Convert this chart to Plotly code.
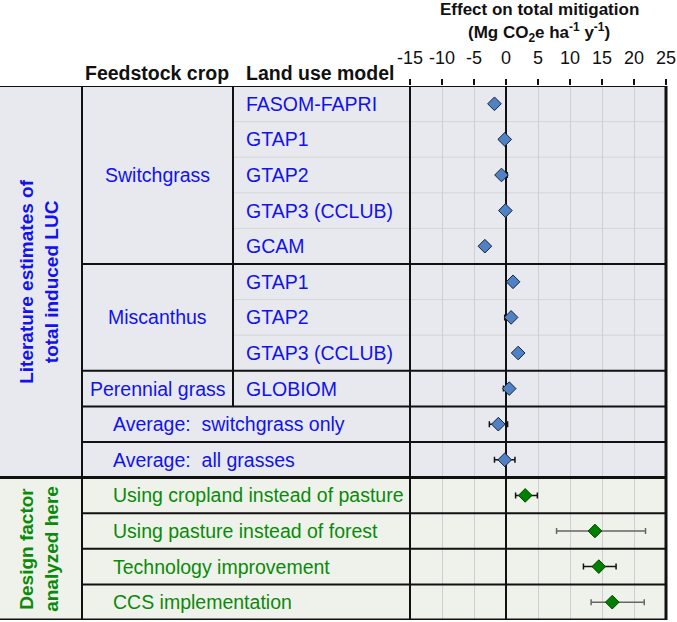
import plotly.graph_objects as go

# ---------------- data ----------------
lit_models = ["FASOM-FAPRI", "GTAP1", "GTAP2", "GTAP3 (CCLUB)", "GCAM",
              "GTAP1", "GTAP2", "GTAP3 (CCLUB)", "GLOBIOM"]
lit_crops = ["Switchgrass", "Miscanthus", "Perennial grass"]
lit_crop_rows = [(0, 4), (5, 7), (8, 8)]
avg_labels = ["Average:  switchgrass only", "Average:  all grasses"]
lit_values = [-1.8, -0.2, -0.7, -0.1, -3.3, 1.1, 0.8, 1.9, 0.5, -1.2, -0.2]
lit_err_minus = [0, 0, 0, 0, 0, 0, 1.0, 0, 0.9, 1.4, 1.6]
lit_err_plus = [0, 0, 0.9, 0, 0, 0, 0, 0, 0, 1.45, 1.6]

design_labels = ["Using cropland instead of pasture", "Using pasture instead of forest",
                 "Technology improvement", "CCS implementation"]
design_values = [3.0, 13.9, 14.5, 16.6]
design_err_minus = [1.5, 6.0, 2.4, 3.3]
design_err_plus = [1.9, 7.9, 2.7, 5.0]

tick_vals = [-15, -10, -5, 0, 5, 10, 15, 20, 25]
tick_text = ["-15", "-10", "-5", "0", "5", "10", "15", "20", "25"]

# ---------------- styles ----------------
W, H = 677, 622
FONT = "Liberation Sans, Arial, sans-serif"
BLUE_TXT = "#1212EE"
GREEN_TXT = "#0A8A0A"
BG_TOP = "#E7E9EF"
BG_BOT = "#EFF2EA"
design_err_colors = ["#111111", "#666666", "#111111", "#666666"]

X_COL1, X_COL2, X_PLOT0, X_PLOT1 = 82, 233, 410, 666
Y_TOP, Y_BOT = 86, 620
n_lit = len(lit_values)
n_rows = n_lit + len(design_values)


def px(x):
    return x / W


fig = go.Figure()

# literature points
fig.add_trace(go.Scatter(
    x=lit_values, y=list(range(n_lit)), mode="markers",
    marker=dict(symbol="diamond", size=10.5, color="#4F81C4",
                line=dict(color="#1A2433", width=1)),
    error_x=dict(type="data", symmetric=False, array=lit_err_plus,
                 arrayminus=lit_err_minus, color="#111111", thickness=1.5, width=3),
    hoverinfo="x", showlegend=False))

# design points
for i, v in enumerate(design_values):
    fig.add_trace(go.Scatter(
        x=[v], y=[n_lit + i], mode="markers",
        marker=dict(symbol="diamond", size=10.5, color="#008000",
                    line=dict(color="#004400", width=1)),
        error_x=dict(type="data", symmetric=False, array=[design_err_plus[i]],
                     arrayminus=[design_err_minus[i]], color=design_err_colors[i],
                     thickness=1.5, width=3),
        hoverinfo="x", showlegend=False))

shapes = []
# backgrounds
shapes.append(dict(type="rect", xref="paper", yref="y", x0=0, x1=px(X_PLOT1),
                   y0=-0.5, y1=n_lit - 0.5, fillcolor=BG_TOP, line_width=0, layer="below"))
shapes.append(dict(type="rect", xref="paper", yref="y", x0=0, x1=px(X_PLOT1),
                   y0=n_lit - 0.5, y1=n_rows - 0.5, fillcolor=BG_BOT, line_width=0, layer="below"))


def hline(y, x0, x1, color="#111111", width=2, layer="above"):
    shapes.append(dict(type="line", xref="paper", yref="y", x0=px(x0), x1=px(x1),
                       y0=y, y1=y, line=dict(color=color, width=width), layer=layer))


def vline(x, y0, y1, color="#111111", width=2):
    shapes.append(dict(type="line", xref="paper", yref="y", x0=px(x), x1=px(x),
                       y0=y0, y1=y1, line=dict(color=color, width=width), layer="above"))


# faint row separators inside crop groups
for (a, b) in lit_crop_rows:
    for r in range(a, b):
        hline(r + 0.5, X_COL2, X_PLOT1, color="#D6D6D6", width=1, layer="below")

# group boundaries
for (a, b) in lit_crop_rows:
    hline(b + 0.5, X_COL1, X_PLOT1)
hline(n_lit - 1.5, X_COL1, X_PLOT1)
for r in range(n_lit, n_rows - 1):
    hline(r + 0.5, X_COL1, X_PLOT1)
hline(-0.5, 0, X_PLOT1, width=2)
hline(n_lit - 0.5, 0, X_PLOT1, width=3)
hline(n_rows - 0.5, 0, X_PLOT1, width=3)

# vertical lines
vline(X_COL1, -0.5, n_rows - 0.5)
vline(X_COL2, -0.5, lit_crop_rows[-1][1] + 0.5)
vline(X_PLOT0, -0.5, n_rows - 0.5)
vline(X_PLOT1, -0.5, n_rows - 0.5, width=3)

annotations = []
LBL = 19.5


def label(text, x, y, color, xanchor="left", size=LBL):
    annotations.append(dict(text=text, xref="paper", yref="y", x=px(x), y=y,
                            xanchor=xanchor, yanchor="middle", showarrow=False,
                            font=dict(family=FONT, size=size, color=color)))


for i, m in enumerate(lit_models):
    label(m, 244, i, BLUE_TXT)
for crop, (a, b) in zip(lit_crops, lit_crop_rows):
    label(crop, (X_COL1 + X_COL2) / 2, (a + b) / 2, BLUE_TXT, xanchor="center")
for i, t in enumerate(avg_labels):
    label(t, 111, len(lit_models) + i, BLUE_TXT)
for i, t in enumerate(design_labels):
    label(t, 111, n_lit + i, GREEN_TXT)

# rotated section labels
annotations.append(dict(text="<b>Literature estimates of<br>total induced LUC</b>",
                        xref="paper", yref="y", x=px(39), y=(n_lit - 1) / 2,
                        textangle=-90, showarrow=False, align="center",
                        xanchor="center", yanchor="middle",
                        font=dict(family=FONT, size=19, color=BLUE_TXT)))
annotations.append(dict(text="<b>Design factor<br>analyzed here</b>",
                        xref="paper", yref="y", x=px(39), y=n_lit + (len(design_values) - 1) / 2,
                        textangle=-90, showarrow=False, align="center",
                        xanchor="center", yanchor="middle",
                        font=dict(family=FONT, size=19, color=GREEN_TXT)))

# headers
annotations.append(dict(text="<b>Feedstock crop</b>", xref="paper", yref="paper",
                        x=px(157), y=1 - 73 / H, xanchor="center", yanchor="middle",
                        showarrow=False, font=dict(family=FONT, size=LBL, color="#111111")))
annotations.append(dict(text="<b>Land use model</b>", xref="paper", yref="paper",
                        x=px(244), y=1 - 73 / H, xanchor="left", yanchor="middle",
                        showarrow=False, font=dict(family=FONT, size=LBL, color="#111111")))
XC = px((X_PLOT0 + X_PLOT1) / 2 + 1)
annotations.append(dict(text="<b>Effect on total mitigation</b>",
                        xref="paper", yref="paper", x=XC, y=1 - 10 / H,
                        xanchor="center", yanchor="middle", showarrow=False,
                        font=dict(family=FONT, size=17, color="#111111")))
annotations.append(dict(text="<b>(Mg CO<sub>2</sub>e ha<sup>-1</sup> y<sup>-1</sup>)</b>",
                        xref="paper", yref="paper", x=XC, y=1 - 32 / H,
                        xanchor="center", yanchor="middle", showarrow=False,
                        font=dict(family=FONT, size=17, color="#111111")))

fig.update_layout(
    width=W, height=H, margin=dict(l=0, r=0, t=0, b=0, pad=0, autoexpand=False),
    paper_bgcolor="white", plot_bgcolor="rgba(0,0,0,0)",
    shapes=shapes, annotations=annotations, showlegend=False,
    xaxis=dict(domain=[px(X_PLOT0), px(X_PLOT1)], range=[-15, 25], side="top",
               tickvals=tick_vals, ticktext=tick_text, ticks="outside", ticklen=6,
               tickcolor="#111111", tickwidth=1.5, automargin=False,
               ticklabeloverflow="allow", ticklabelstandoff=8,
               tickfont=dict(family=FONT, size=18, color="#111111"),
               showgrid=True, gridcolor="#CFCFCF", gridwidth=1,
               zeroline=True, zerolinecolor="#111111", zerolinewidth=2,
               showline=False, fixedrange=True),
    yaxis=dict(domain=[1 - Y_BOT / H, 1 - Y_TOP / H], range=[n_rows - 0.5, -0.5],
               showticklabels=False, showgrid=False, zeroline=False, ticks="",
               automargin=False, fixedrange=True),
)

fig.write_html("out.html", config={"displayModeBar": False},
               post_script="document.body.style.margin='0';document.body.style.overflow='hidden';")
